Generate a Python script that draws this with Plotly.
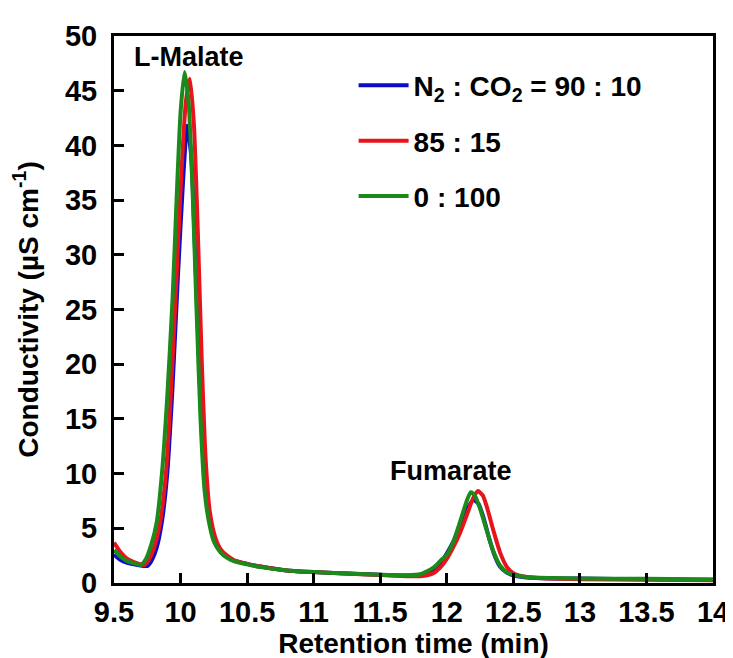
import plotly.graph_objects as go

# ---- data ----
blue_x = [9.5, 9.55, 9.6, 9.65, 9.7, 9.75, 9.78, 9.82, 9.86, 9.9, 9.94, 9.98, 10.02, 10.05,
          10.08, 10.11, 10.14, 10.17, 10.2, 10.24, 10.3, 10.35, 10.4, 10.5, 10.6, 10.8, 11.0,
          11.2, 11.5, 11.7, 11.8, 11.9, 11.95, 12.0, 12.05, 12.1, 12.15, 12.2, 12.24, 12.28,
          12.32, 12.36, 12.4, 12.45, 12.5, 12.6, 12.8, 13.0, 13.5, 14.0]
blue_y = [2.6, 2.1, 1.85, 1.7, 1.6, 1.55, 2.0, 3.2, 5.6, 10, 18, 28, 37, 41.8,
          39, 30, 20, 11.5, 7, 4.5, 3.0, 2.4, 2.05, 1.75, 1.5, 1.15, 1.0,
          0.9, 0.75, 0.68, 0.72, 1.1, 1.8, 2.7, 3.8, 5.2, 6.7, 7.6, 7.2, 5.8,
          4.0, 2.5, 1.5, 0.95, 0.7, 0.5, 0.42, 0.4, 0.35, 0.3]

red_x = [9.5, 9.55, 9.6, 9.65, 9.7, 9.73, 9.77, 9.81, 9.85, 9.89, 9.93, 9.97, 10.0, 10.04,
         10.07, 10.1, 10.13, 10.16, 10.19, 10.22, 10.26, 10.3, 10.35, 10.4, 10.5, 10.6, 10.8,
         11.0, 11.2, 11.5, 11.7, 11.8, 11.9, 11.95, 12.0, 12.05, 12.1, 12.15, 12.2, 12.235,
         12.27, 12.3, 12.35, 12.4, 12.45, 12.5, 12.6, 12.8, 13.0, 13.5, 14.0]
red_y = [3.7, 2.8, 2.2, 1.9, 1.7, 1.65, 2.3, 3.6, 5.8, 10, 18, 28, 36, 44,
         46.1, 42, 32, 20, 11, 6.5, 4.2, 3.1, 2.5, 2.1, 1.75, 1.5, 1.15,
         1.0, 0.9, 0.72, 0.62, 0.62, 0.9, 1.4, 2.2, 3.3, 4.6, 6.2, 7.8, 8.4,
         8.0, 7.0, 4.8, 2.8, 1.5, 0.9, 0.55, 0.4, 0.35, 0.3, 0.25]

green_x = [9.5, 9.55, 9.6, 9.65, 9.7, 9.74, 9.78, 9.82, 9.86, 9.9, 9.94, 9.97, 10.0, 10.03,
           10.06, 10.09, 10.12, 10.15, 10.18, 10.21, 10.25, 10.3, 10.35, 10.4, 10.5, 10.6,
           10.8, 11.0, 11.2, 11.5, 11.7, 11.8, 11.9, 11.95, 12.0, 12.05, 12.1, 12.15, 12.18,
           12.21, 12.25, 12.3, 12.35, 12.4, 12.45, 12.5, 12.6, 12.8, 13.0, 13.5, 14.0]
green_y = [3.0, 2.4, 2.0, 1.8, 1.65, 2.2, 3.5, 5.5, 10, 17, 26, 35, 43, 46.7,
           44, 36, 25, 15, 8.5, 5.8, 3.8, 2.8, 2.3, 2.0, 1.7, 1.45,
           1.15, 1.0, 0.9, 0.75, 0.7, 0.8, 1.4, 2.0, 2.6, 3.8, 5.6, 7.5, 8.3,
           8.0, 6.8, 4.8, 2.9, 1.6, 1.0, 0.75, 0.55, 0.45, 0.42, 0.38, 0.32]

series_names = ["N<sub>2</sub> : CO<sub>2</sub> = 90 : 10", "85 : 15", "0 : 100"]
series_colors = ["#0c0cc8", "#e8141c", "#1b8a1b"]

x_ticks = [9.5, 10, 10.5, 11, 11.5, 12, 12.5, 13, 13.5, 14]
y_ticks = [0, 5, 10, 15, 20, 25, 30, 35, 40, 45, 50]

peak_labels = ["L-Malate", "Fumarate"]
peak_label_x = [10.06, 12.03]
peak_label_y = [48.1, 10.2]

FONT = "Liberation Sans, Arial, sans-serif"
FS = 29

fig = go.Figure()
for i, (xs, ys) in enumerate([(blue_x, blue_y), (red_x, red_y), (green_x, green_y)]):
    fig.add_trace(go.Scatter(
        x=xs, y=ys, mode="lines", name=f"<b>{series_names[i]}</b>",
        line=dict(color=series_colors[i], width=4, shape="spline", smoothing=0.6),
        legendgroup=f"g{i}",
    ))

for lab, lx, ly in zip(peak_labels, peak_label_x, peak_label_y):
    fig.add_annotation(x=lx, y=ly, text=f"<b>{lab}</b>", showarrow=False,
                       font=dict(family=FONT, size=27, color="black"),
                       xanchor="center", yanchor="middle")

axis_common = dict(
    showline=True, linecolor="black", linewidth=3, mirror=True,
    ticks="inside", ticklen=10, tickwidth=2.5, tickcolor="black",
    showgrid=False, zeroline=False,
    tickfont=dict(family=FONT, size=FS, color="black"),
)

fig.update_layout(
    width=733, height=658,
    margin=dict(l=106, r=18, t=27, b=83),
    paper_bgcolor="white", plot_bgcolor="white",
    font=dict(family=FONT, color="black"),
    xaxis=dict(range=[9.5, 14], tickvals=x_ticks, ticktext=[f"<b>{v:g}</b>" for v in x_ticks],
               ticklabelstandoff=1,
               title=dict(text="<b>Retention time (min)</b>", font=dict(family=FONT, size=28), standoff=1),
               **axis_common),
    yaxis=dict(range=[0, 50], tickvals=y_ticks, ticktext=[f"<b>{v}</b>" for v in y_ticks],
               ticklabelstandoff=8,
               title=dict(text="<b>Conductivity (µS cm<sup>-1</sup>)</b>", font=dict(family=FONT, size=28), standoff=20),
               **axis_common),
    legend=dict(x=0.4, y=0.955, xanchor="left", yanchor="top",
                font=dict(family=FONT, size=28, color="black"),
                bgcolor="rgba(0,0,0,0)", tracegroupgap=16, traceorder="grouped",
                itemwidth=50),
    showlegend=True,
)

fig.write_html("out.html")
